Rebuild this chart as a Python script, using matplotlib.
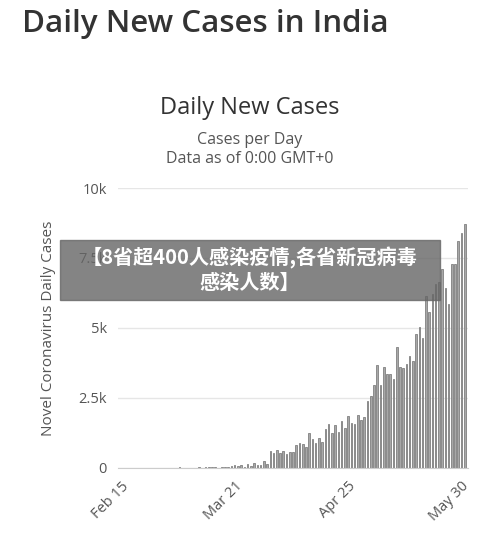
import matplotlib
matplotlib.use("Agg")
import matplotlib.pyplot as plt
import numpy as np

cases = [0]*16 + [2,1,22,2,1,3,5,4,13,6,11,9,20,11,6,23,14,38,50,86,66,103,37,121,70,160,100,112,227,146,
         601,545,624,524,609,484,573,565,813,871,854,758,1243,1031,886,1061,922,1371,1580,1239,1537,1292,1667,1408,1835,1607,1568,1902,1705,1801,
         2396,2564,2952,3656,2971,3602,3344,3339,3175,4311,3592,3562,3726,3991,3808,4794,5049,4630,6147,5553,6198,6568,6629,7113,6414,5843,7293,7300,8105,8380,8700]
tick_labels = ["Feb 15", "Mar 21", "Apr 25", "May 30"]
tick_days = [0, 35, 70, 105]
ytick_vals = [0, 2500, 5000, 7500, 10000]
ytick_labels = ["0", "2.5k", "5k", "7.5k", "10k"]

plt.rcParams['font.family'] = ['Noto Sans CJK SC', 'DejaVu Sans']
fig = plt.figure(figsize=(5, 5.42), dpi=100)
fig.text(0.044, 0.955, "Daily New Cases in India", fontsize=22.5, color="#333333", va="center", family="Open Sans", weight="semibold")
fig.text(0.5, 0.8, "Daily New Cases", fontsize=17, color="#333333", ha="center", va="center", family="Open Sans")
fig.text(0.5, 0.742, "Cases per Day", fontsize=11.5, color="#555555", ha="center", va="center", family="Open Sans")
fig.text(0.5, 0.706, "Data as of 0:00 GMT+0", fontsize=11.5, color="#555555", ha="center", va="center", family="Open Sans")

ax = fig.add_axes([0.236, 0.137, 0.70, 0.516])
x = np.arange(len(cases))
ax.bar(x, cases, width=0.5, color="#a8a8a8", edgecolor="#808080", linewidth=0.6, zorder=2)
ax.set_ylim(0, 10000)
ax.set_xlim(-1, len(cases))
ax.set_yticks(ytick_vals)
ax.set_yticklabels(ytick_labels, color="#555555", fontsize=10.5, family="Open Sans")
ax.set_xticks(tick_days)
ax.set_xticklabels(tick_labels, rotation=45, ha="right", rotation_mode="anchor", color="#555555", fontsize=10.5, family="Open Sans")
ax.grid(axis="y", color="#e6e6e6", linewidth=1, zorder=0)
for s in ["top", "right", "left"]:
    ax.spines[s].set_visible(False)
ax.spines["bottom"].set_color("#cccccc")
ax.tick_params(length=0, pad=8)
ax.set_ylabel("Novel Coronavirus Daily Cases", color="#555555", fontsize=11, family="Open Sans", labelpad=16)

fig.patches.append(plt.Rectangle((0.12, 0.446), 0.76, 0.112, transform=fig.transFigure,
                                 color="#666666", alpha=0.8, zorder=10))
fig.text(0.5, 0.502, "【8省超400人感染疫情,各省新冠病毒\n感染人数】", fontsize=14.5, color="white", weight="bold",
         ha="center", va="center", zorder=11, linespacing=1.2)
fig.savefig("out.png", dpi=100)
